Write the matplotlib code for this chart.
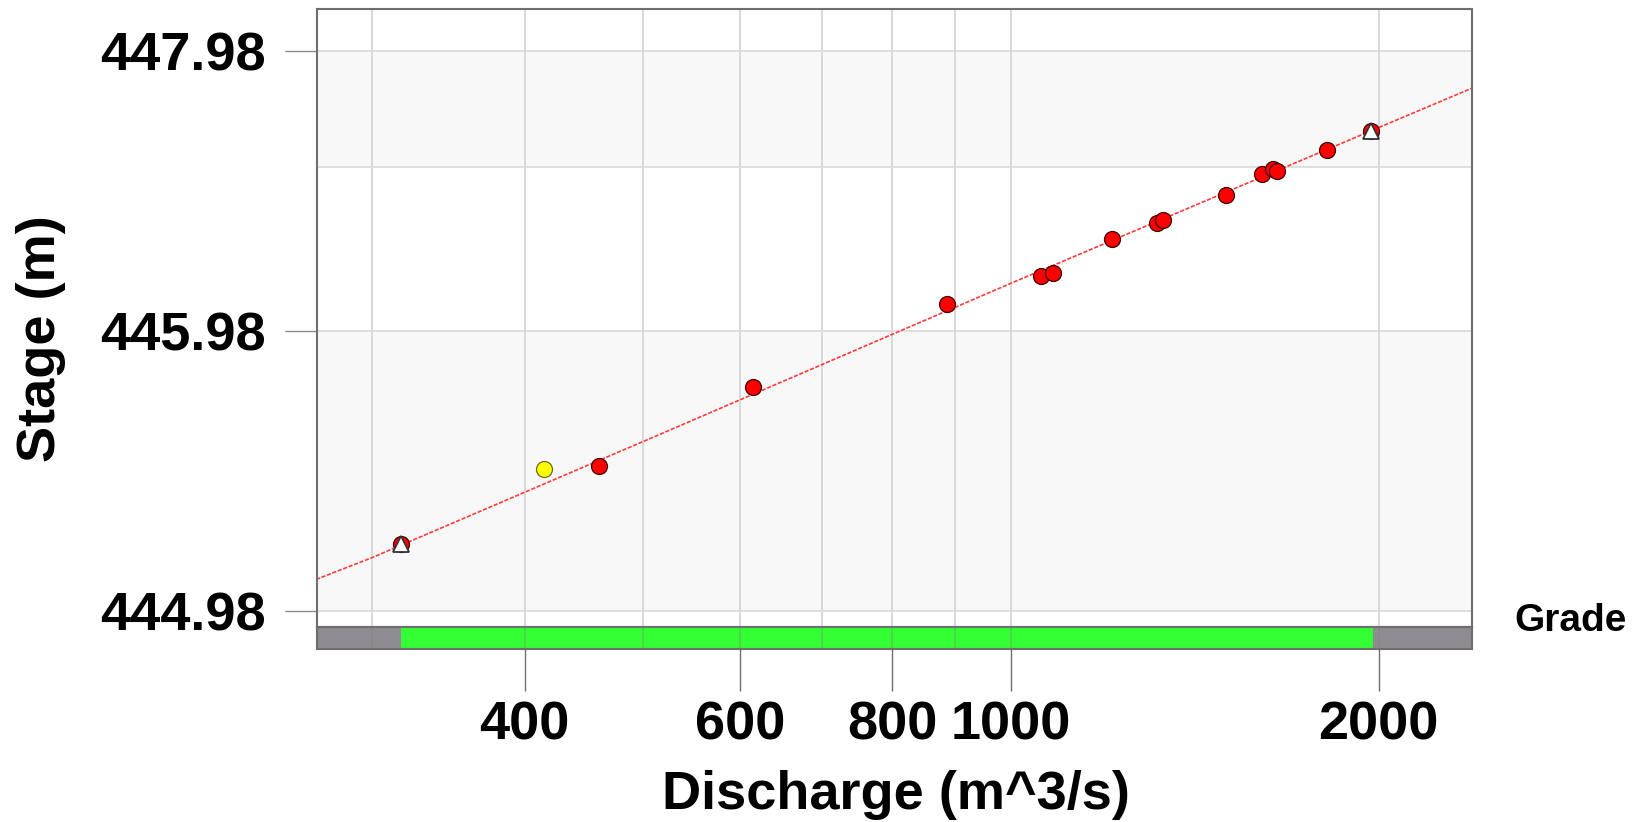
import numpy as np
import matplotlib
matplotlib.use('Agg')
import matplotlib.pyplot as plt
from matplotlib.ticker import NullLocator

plt.rcParams['font.family'] = ['Liberation Sans', 'DejaVu Sans']
plt.rcParams['font.weight'] = 'bold'

# stage of zero flow, the stage axis is log(stage - offset)
offset = 443.98

# field measurements (discharge m^3/s, stage m)
meas_q = [317, 460, 615, 887, 1059, 1082, 1210, 1317, 1332, 1501, 1605, 1639, 1650, 1815, 1970]
meas_stage = [445.16, 445.41, 445.72, 446.12, 446.27, 446.29, 446.49, 446.59, 446.61,
              446.78, 446.93, 446.97, 446.95, 447.11, 447.26]

# flagged measurement (yellow)
flag_q = [415]
flag_stage = [445.40]

# ends of the rated range (triangles)
end_q = [317, 1970]
end_stage = [445.16, 447.26]

# rating curve
curve_q = [270, 300, 500, 1000, 2000, 2385]
curve_stage = [445.06, 445.12, 445.50, 446.23, 447.29, 447.63]

# grade strip
grade_lo = [270, 317, 1977]
grade_hi = [317, 1977, 2385]
grade_colors = ['#8f8c91', '#33ff33', '#8f8c91']

# axis ticks / grid
x_ticks = [400, 600, 800, 1000, 2000]
x_grid = [300, 400, 500, 600, 700, 800, 900, 1000, 2000]
y_ticks = [444.98, 445.98, 447.98]
y_grid = [444.98, 445.98, 446.98, 447.98]
band_lo = [444.98, 446.98]
band_hi = [445.98, 447.98]


def fwd(v):
    v = np.asarray(v, dtype=float)
    with np.errstate(invalid='ignore', divide='ignore'):
        return np.log10(np.where(v - offset > 0, v - offset, np.nan))


def inv(v):
    return 10 ** np.asarray(v, dtype=float) + offset


W, H = 1635, 822
fig = plt.figure(figsize=(W / 100, H / 100), dpi=100)

left, right, top, mid, bot = 317, 1472, 9, 627, 649
ax = fig.add_axes([left / W, 1 - mid / H, (right - left) / W, (mid - top) / H])
ax2 = fig.add_axes([left / W, 1 - bot / H, (right - left) / W, (bot - mid) / H])

# main panel
ax.set_xscale('log')
ax.set_yscale('function', functions=(fwd, inv))
ax.set_xlim(270.5, 2384)
ax.set_ylim(444.94, 448.42)

for lo, hi in zip(band_lo, band_hi):
    ax.axhspan(lo, hi, color='#f8f8f8', zorder=0, lw=0)
for v in x_grid:
    ax.axvline(v, color='#d6d6d6', lw=1.3, zorder=1)
for v in y_grid:
    ax.axhline(v, color='#dcdcdc', lw=1.3, zorder=1)

ax.plot(curve_q, curve_stage, color='#ff3a3a', lw=1.2, ls=(0, (2.5, 1)), zorder=2)
ax.plot(meas_q, meas_stage, 'o', ms=11.5, mfc='#ff0000', mec='#3c0000', mew=0.9, zorder=3)
ax.plot(flag_q, flag_stage, 'o', ms=11.5, mfc='#ffff00', mec='#6b6b2a', mew=0.9, zorder=3)
ax.plot(end_q, end_stage, '^', ms=11, mfc='white', mec='#333333', mew=1.3, zorder=4)

ax.set_yticks(y_ticks)
ax.set_yticklabels([f'{v:.2f}' for v in y_ticks])
ax.yaxis.set_minor_locator(NullLocator())
ax.tick_params(axis='y', length=23, width=1, color='#8c8c8c', pad=14, labelsize=39)
ax.xaxis.set_major_locator(NullLocator())
ax.xaxis.set_minor_locator(NullLocator())
for s in ax.spines.values():
    s.set_color('#6e6e6e')
    s.set_linewidth(1.5)

# grade strip
ax2.set_xscale('log')
ax2.set_xlim(270.5, 2384)
ax2.set_ylim(0, 1)
for lo, hi, c in zip(grade_lo, grade_hi, grade_colors):
    ax2.barh(0.5, hi - lo, left=lo, height=1, color=c, lw=0, zorder=1)
for v in x_grid:
    ax2.axvline(v, color='#808080', lw=1.3, alpha=0.35, zorder=2)
ax2.set_xticks(x_ticks)
ax2.set_xticklabels([str(v) for v in x_ticks])
ax2.xaxis.set_minor_locator(NullLocator())
ax2.set_yticks([])
ax2.tick_params(axis='x', length=30, width=1, color='#707070', pad=7, labelsize=39)
for s in ax2.spines.values():
    s.set_color('#6e6e6e')
    s.set_linewidth(1.5)

fig.text(1514 / W, 1 - 621 / H, 'Grade', fontsize=28, ha='left', va='center')
fig.text(41 / W, 1 - 339 / H, 'Stage (m)', fontsize=39, rotation=90, ha='center', va='center')
fig.text(896 / W, 1 - 795 / H, 'Discharge (m^3/s)', fontsize=39, ha='center', va='center')

fig.savefig('out.png', dpi=100)
